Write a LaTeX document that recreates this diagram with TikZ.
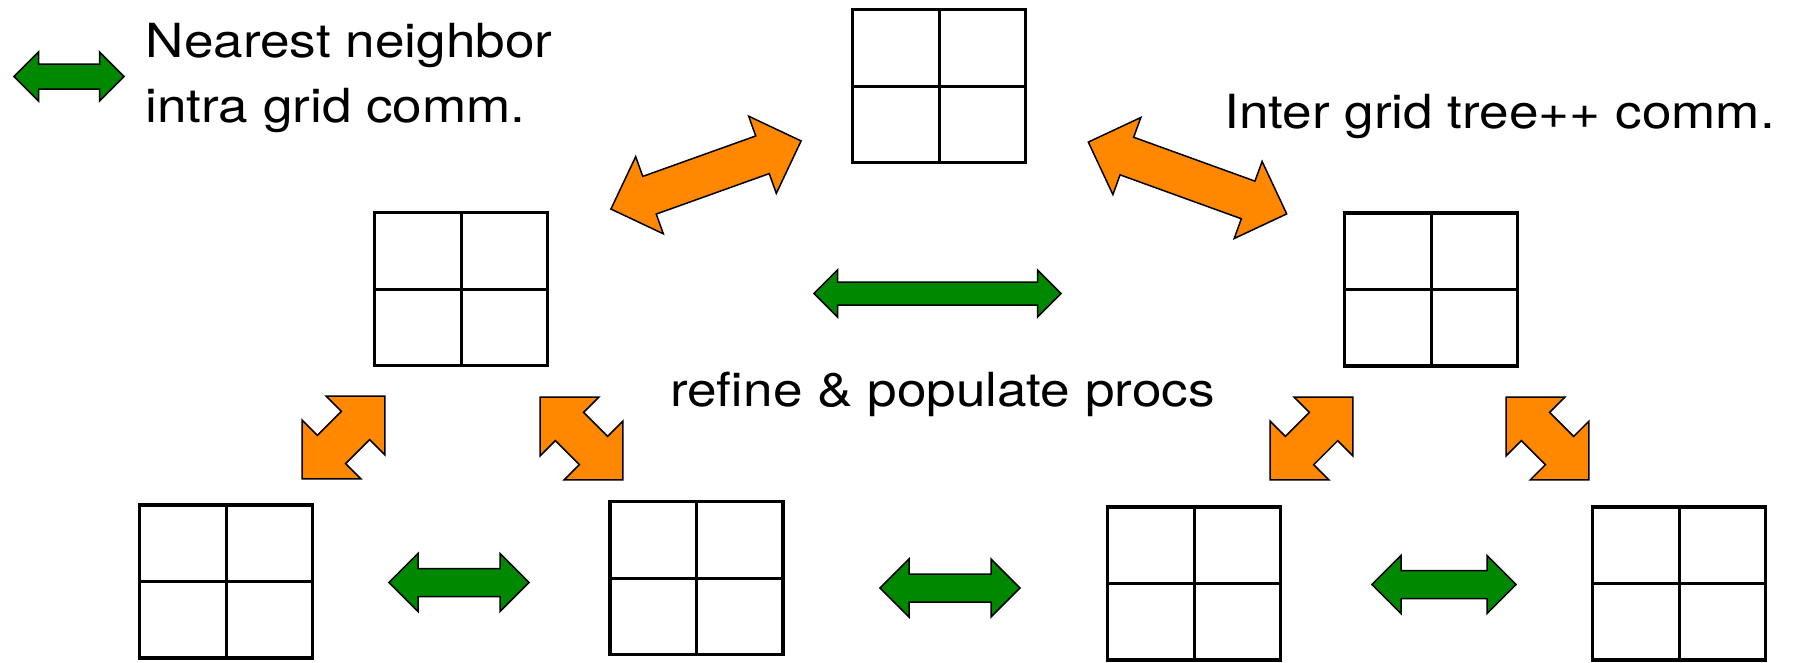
\documentclass[tikz,border=0pt]{standalone}
\usepackage{fontspec}
\setmainfont{TeX Gyre Heros}
\definecolor{arrgreen}{HTML}{008800}
\definecolor{arrorange}{HTML}{FF8800}
\newcommand{\blockarrow}[7]{%
  % #1 name, #2 center, #3 angle, #4 length, #5 shaft half width, #6 head half width (= head length), #7 style
  \begin{scope}[shift={#2}, rotate=#3]
    \coordinate (#1) at (0,0);
    \path[#7] ({-#4/2},0) -- ({-#4/2+#6},#6) -- ({-#4/2+#6},#5) -- ({#4/2-#6},#5)
      -- ({#4/2-#6},#6) -- ({#4/2},0) -- ({#4/2-#6},{-#6}) -- ({#4/2-#6},{-#5})
      -- ({-#4/2+#6},{-#5}) -- ({-#4/2+#6},{-#6}) -- cycle;
  \end{scope}}
\tikzset{
  gridbox/.style={draw, line width=3.3pt, minimum width=173pt, minimum height=153pt,
    inner sep=0pt, path picture={
      \draw[line width=3pt] (path picture bounding box.north) -- (path picture bounding box.south);
      \draw[line width=3pt] (path picture bounding box.west) -- (path picture bounding box.east);}},
  greenarr/.style={fill=arrgreen, draw=black, line width=1.5pt, line join=miter},
  orangearr/.style={fill=arrorange, draw=black, line width=1.5pt, line join=miter},
  label/.style={inner sep=0pt, anchor=base west, xscale=1.13, font=\fontsize{47}{56}\selectfont}
}
\begin{document}
\begin{tikzpicture}[x=1pt, y=-1pt]
\useasboundingbox (0,0) rectangle (1793,662);
% grids
\node[gridbox] (gT) at (939,86) {};
\node[gridbox] (gL) at (461,289) {};
\node[gridbox] (gR) at (1431,289.5) {};
\node[gridbox] (gB1) at (226,581.5) {};
\node[gridbox] (gB2) at (696.6,578) {};
\node[gridbox] (gB3) at (1194,583.5) {};
\node[gridbox] (gB4) at (1679,583.5) {};
% legend
\blockarrow{aLeg}{(69,76.5)}{0}{110}{12.5}{24.5}{greenarr}
\node[label] (tLeg1) at (145.6,57) {Nearest neighbor};
\node[label] (tLeg2) at (145,122) {intra grid comm.};
\node[label] (tInter) at (1224,128) {Inter grid tree++ comm.};
\node[label] (tRefine) at (670,406) {refine \& populate procs};
% orange inter-grid arrows
\blockarrow{aO1}{(706,175)}{19.7}{202}{20}{41}{orangearr}
\blockarrow{aO2}{(1187.5,178)}{-19.9}{211}{20}{41}{orangearr}
\blockarrow{aD1}{(343.5,437.5)}{45}{117}{20}{41.5}{orangearr}
\blockarrow{aD2}{(581.5,438.5)}{-45}{117}{20}{41.5}{orangearr}
\blockarrow{aD3}{(1311.5,438.5)}{45}{117}{20}{41.5}{orangearr}
\blockarrow{aD4}{(1547.5,438.5)}{-45}{117}{20}{41.5}{orangearr}
% green intra-grid arrows
\blockarrow{aG0}{(937.5,293.5)}{0}{247}{11.5}{23.5}{greenarr}
\blockarrow{aG1}{(459,582.5)}{0}{140}{14}{29}{greenarr}
\blockarrow{aG2}{(950,588)}{0}{140}{14}{29}{greenarr}
\blockarrow{aG3}{(1444,584.5)}{0}{144}{14}{29}{greenarr}
\end{tikzpicture}
\end{document}
